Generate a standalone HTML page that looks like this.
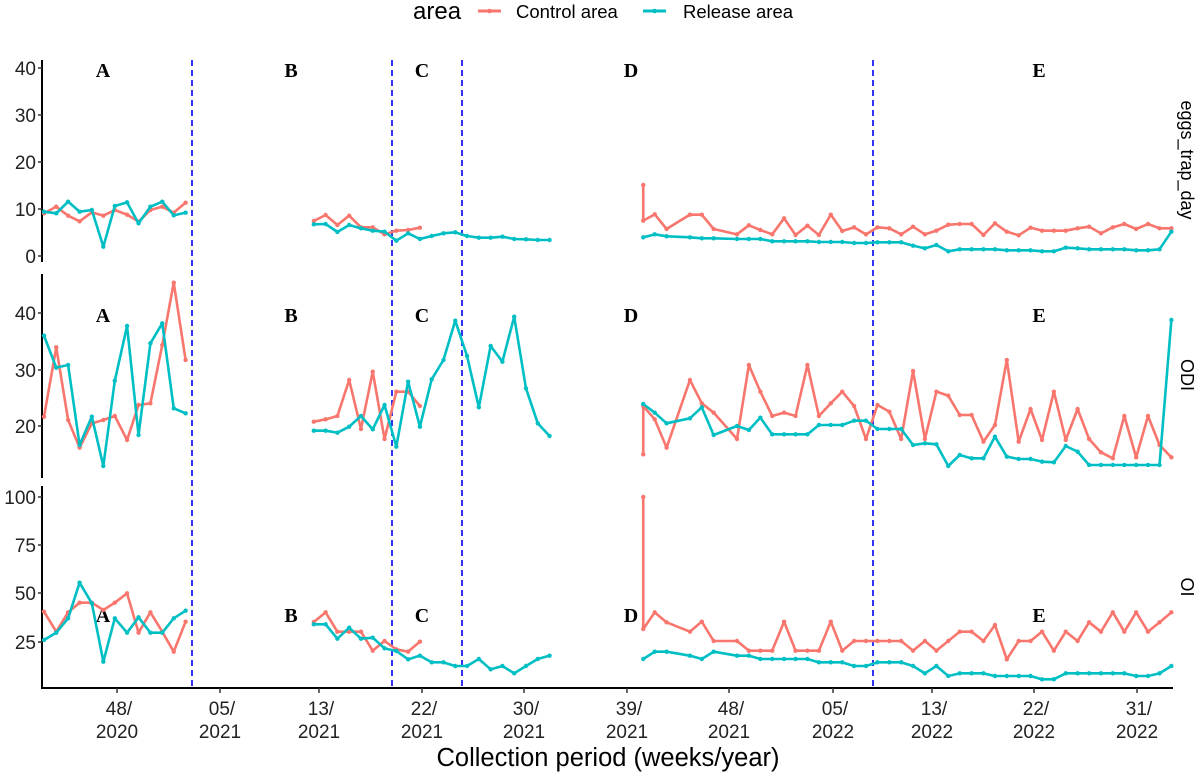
<!DOCTYPE html>
<html><head><meta charset="utf-8">
<style>
html,body{margin:0;padding:0;background:#fff;}
svg{display:block;font-family:"Liberation Sans",sans-serif;}
.lab{font-family:"Liberation Serif",serif;font-weight:bold;font-size:20px;}
.tk{font-size:19px;fill:#222;}
</style></head>
<body>
<svg id="s" width="1200" height="772" viewBox="0 0 1200 772" xmlns="http://www.w3.org/2000/svg">
<text x="413" y="19" font-size="24">area</text>
<line x1="478" y1="11" x2="501" y2="11" stroke="#F8766D" stroke-width="3"/><circle cx="489.5" cy="11" r="2.3" fill="#F8766D"/>
<text x="516" y="18" font-size="18.5">Control area</text>
<line x1="643" y1="11" x2="666" y2="11" stroke="#00BFC4" stroke-width="3"/><circle cx="654.5" cy="11" r="2.3" fill="#00BFC4"/>
<text x="683" y="18" font-size="18.5">Release area</text>
<g id="g"></g>
</svg>
<script>
const NS="http://www.w3.org/2000/svg",g=document.getElementById('g');
function el(t,a,txt){const e=document.createElementNS(NS,t);for(const k in a)e.setAttribute(k,a[k]);if(txt!==undefined)e.textContent=txt;g.appendChild(e);return e;}
[[60,262],[274,478],[486,688]].forEach(p=>el('line',{x1:42,y1:p[0],x2:42,y2:p[1],stroke:'#000','stroke-width':2}));
el('line',{x1:41,y1:688,x2:1173,y2:688,stroke:'#000','stroke-width':2});
function yt(v,y){el('line',{x1:38,y1:y,x2:42,y2:y,stroke:'#333','stroke-width':1.5});el('text',{x:36,y:y+7,'text-anchor':'end',class:'tk'},v);}
[[0,256],[10,209],[20,162],[30,115],[40,68]].forEach(a=>yt(a[0],a[1]));
[[20,426],[30,370],[40,313]].forEach(a=>yt(a[0],a[1]));
[[25,642],[50,593],[75,545],[100,497]].forEach(a=>yt(a[0],a[1]));
[[117,'48/','2020'],[220,'05/','2021'],[319,'13/','2021'],[422,'22/','2021'],[524,'30/','2021'],[627,'39/','2021'],[729,'48/','2021'],[833,'05/','2022'],[932,'13/','2022'],[1034,'22/','2022'],[1137,'31/','2022']].forEach(a=>{
el('line',{x1:a[0],y1:688,x2:a[0],y2:693,stroke:'#333','stroke-width':1.5});
el('text',{x:a[0]+2,y:715,'text-anchor':'middle',class:'tk'},a[1]);
el('text',{x:a[0],y:738,'text-anchor':'middle',class:'tk'},a[2]);});
el('text',{x:608,y:766,'text-anchor':'middle','font-size':25.5},'Collection period (weeks/year)');
[['eggs_trap_day',160],['ODI',375],['OI',587]].forEach(a=>el('text',{x:0,y:0,transform:`translate(1181,${a[1]}) rotate(90)`,'text-anchor':'middle','font-size':18},a[0]));
[192,392,462,873].forEach(x=>el('line',{x1:x,y1:60,x2:x,y2:688,stroke:'#0000EE','stroke-width':1.6,'stroke-dasharray':'6,4'}));
[77,322,622].forEach(y=>[['A',103],['B',291],['C',422],['D',631],['E',1039]].forEach(a=>el('text',{x:a[1],y:y,'text-anchor':'middle',class:'lab'},a[0])));
function ser(pts,fx,fy,col){const P=pts.map(p=>[fx(p[0]),fy(p[1])]);
el('polyline',{points:P.map(p=>p.join(',')).join(' '),fill:'none',stroke:col,'stroke-width':2.6,'stroke-linejoin':'round'});
P.forEach(p=>el('circle',{cx:p[0],cy:p[1],r:2.2,fill:col}));}
const R='#F8766D',C='#00BFC4';
const X1=x=>x/2.613,X2=x=>x/2.613+600,Y1=y=>y/3+50,Y4=y=>y/3+560;
function zip(xs,ys){return xs.map((x,i)=>[x,ys[i]]);}
const xA=[115,147,178,208,240,270,300,332,362,393,424,454,485];
const xB=[];for(let i=0;i<21;i++)xB.push(820+i*30.8);
const xD=[113,143,174,235,266,297,358,389,419,450,481,511,542,572,603,633,664,695,725,756,787,818,849,879,910,940,971,1002,1032,1063,1094,1125,1155,1186,1217,1248,1278,1309,1340,1370,1401,1432,1462,1493];
ser(zip(xA,[490,470,497,514,487,497,480,494,515,480,470,488,458]),X1,Y1,R);
ser(zip(xA,[485,490,455,485,480,590,468,457,520,470,455,496,488]),X1,Y1,C);
ser(zip(xB.slice(0,10),[513,495,525,497,532,532,553,542,540,533]),X1,Y1,R);
ser(zip(xB,[523,522,546,525,535,542,545,572,550,567,558,550,547,558,563,563,560,567,568,570,570]),X1,Y1,C);
ser([[113,405]].concat(zip(xD,[512,493,537,494,494,537,553,526,540,553,505,555,527,555,494,543,532,553,532,535,553,530,553,542,524,522,522,555,520,545,556,533,542,542,542,535,530,550,532,522,537,522,535,535])),X2,Y1,R);
ser(zip(xD,[562,553,559,562,565,565,567,567,567,574,574,574,574,576,576,576,579,579,577,577,577,587,595,585,604,598,598,598,598,601,601,601,604,604,593,595,598,598,598,598,601,601,598,545]),X2,Y1,C);
ser(zip(xA,[1100,892,1110,1193,1120,1110,1098,1170,1065,1060,885,698,930]),X1,Y1,R);
ser(zip(xA,[857,953,945,1185,1100,1248,992,828,1155,880,820,1075,1090]),X1,Y1,C);
ser(zip(xB.slice(0,10),[1115,1108,1098,990,1137,965,1167,1025,1025,1068]),X1,Y1,R);
ser(zip(xB,[1142,1142,1148,1130,1098,1138,1065,1190,995,1130,988,930,812,918,1072,888,935,800,1015,1120,1158]),X1,Y1,C);
ser([[113,1213]].concat(zip(xD,[1068,1108,1193,990,1060,1088,1167,945,1025,1098,1088,1098,945,1098,1060,1025,1068,1167,1065,1085,1167,963,1167,1025,1037,1095,1095,1175,1125,930,1175,1077,1170,1025,1170,1077,1167,1207,1225,1098,1222,1098,1185,1222])),X2,Y1,R);
ser(zip(xD,[1062,1088,1120,1105,1072,1155,1128,1140,1103,1153,1153,1153,1153,1125,1125,1125,1112,1112,1137,1137,1137,1185,1180,1183,1248,1215,1225,1225,1160,1220,1227,1227,1235,1237,1188,1205,1245,1245,1245,1245,1245,1245,1245,810]),X2,Y1,C);
ser(zip(xA,[155,215,157,128,128,150,128,100,218,157,215,275,185]),X1,Y4,R);
ser(zip(xA,[240,218,175,68,130,305,175,218,172,218,218,175,152]),X1,Y4,C);
ser(zip(xB.slice(0,10),[186,157,215,215,215,272,243,268,275,245]),X1,Y4,R);
ser(zip(xB,[193,193,236,203,236,233,265,273,298,287,307,307,318,318,297,328,318,340,318,297,287]),X1,Y4,C);
ser([[113,-189]].concat(zip(xD,[207,157,187,215,185,243,243,272,272,272,185,272,272,272,185,272,243,243,243,243,243,272,243,272,243,215,215,243,195,298,243,243,215,272,215,243,187,215,157,215,157,215,187,157])),X2,Y4,R);
ser(zip(xD,[297,275,275,287,297,275,287,287,297,297,297,297,297,307,307,307,318,318,307,307,307,318,340,318,348,340,340,340,348,348,348,348,358,358,340,340,340,340,340,340,348,348,340,318]),X2,Y4,C);
</script>
</body></html>
